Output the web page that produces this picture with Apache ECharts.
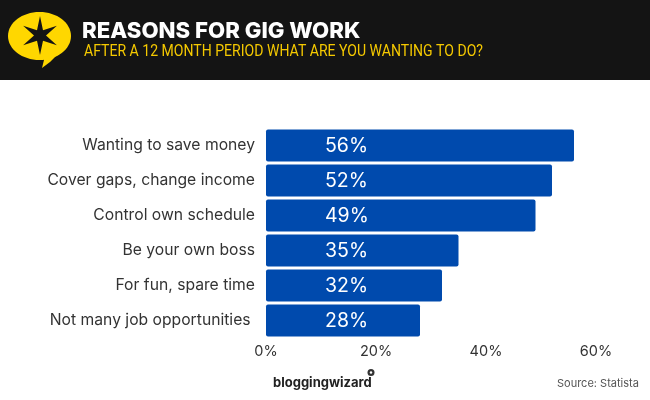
<!DOCTYPE html>
<html><head><meta charset="utf-8">
<style>html,body{margin:0;padding:0;background:#fff}#c{width:650px;height:400px}</style>
<script src="https://cdn.jsdelivr.net/npm/echarts@6/dist/echarts.min.js"></script>
</head><body><div id="c"></div>
<script>
const categories = ['Wanting to save money','Cover gaps, change income','Control own schedule','Be your own boss','For fun, spare time','Not many job opportunities\u00a0'];
const values = [56,52,49,35,32,28];
const axisTicks = [0,20,40,60];
const titleText = 'REASONS FOR GIG WORK';
const subtitleText = 'AFTER A 12 MONTH PERIOD WHAT ARE YOU WANTING TO DO?';
const sourceText = 'Source: Statista';
const brandText = 'bloggingwizard';
const FONT = 'Inter, "Open Sans", sans-serif';
const chart = echarts.init(document.getElementById('c'), null, {renderer:'canvas'});
function star(cx,cy,R,r){
  const pts=[];
  for(let i=0;i<12;i++){const a=-Math.PI/2+i*Math.PI/6;const q=i%2?r:R;pts.push([cx+q*Math.cos(a),cy+q*Math.sin(a)]);}
  return pts;
}
chart.setOption({
  animation:false,
  backgroundColor:'#fff',
  grid:{left:266,top:128,width:330,height:210,containLabel:false},
  xAxis:{type:'value',min:0,max:60,interval:20,position:'bottom',
    axisLine:{show:false},axisTick:{show:false},splitLine:{show:false},
    axisLabel:{color:'#333',fontFamily:FONT,fontSize:14.5,margin:6,showMinLabel:true,showMaxLabel:true,
      formatter:v=>axisTicks.includes(v)?v+'%':''}},
  yAxis:{type:'category',inverse:true,data:categories,
    axisLine:{show:false},axisTick:{show:false},
    axisLabel:{color:'#333',fontFamily:FONT,fontSize:15.7,margin:11,padding:[2,0,0,0]}},
  series:[{type:'bar',data:values,barWidth:32,
    itemStyle:{color:'#004AAD',borderRadius:2},
    label:{show:true,position:'insideLeft',distance:59,offset:[0,1],color:'#fff',fontFamily:FONT,fontSize:19.5,formatter:p=>p.value+'%'}}],
  graphic:[
    {type:'rect',z:0,shape:{x:0,y:0,width:650,height:80},style:{fill:'#141414'}},
    {type:'ellipse',z:1,shape:{cx:39.5,cy:36,rx:31.5,ry:24},style:{fill:'#FFD700'}},
    {type:'polygon',z:1,shape:{points:[[44,54],[60,52],[50,62],[42,68],[44,60]]},style:{fill:'#FFD700'}},
    {type:'polygon',z:2,shape:{points:star(40,35.5,19.5,6)},style:{fill:'#141414'}},
    {type:'text',z:3,x:82,y:31,style:{text:titleText,fill:'#fff',font:'800 22.2px '+FONT,textVerticalAlign:'middle'}},
    {type:'text',z:3,x:84,y:52,scaleX:0.827,style:{text:subtitleText,fill:'#F5C900',font:'400 17px Roboto',textVerticalAlign:'middle'}},
    {type:'text',z:3,x:273,y:383,style:{text:brandText,fill:'#222',font:'700 13px '+FONT,textVerticalAlign:'middle'}},
    {type:'circle',z:3,shape:{cx:371,cy:372.5,r:3.5},style:{fill:'#333'}},
    {type:'circle',z:4,shape:{cx:371,cy:372.5,r:1.2},style:{fill:'#fff'}},
    {type:'text',z:3,x:557,y:384,style:{text:sourceText,fill:'#555',font:'400 11px '+FONT,textVerticalAlign:'middle'}}
  ]
});
</script></body></html>
